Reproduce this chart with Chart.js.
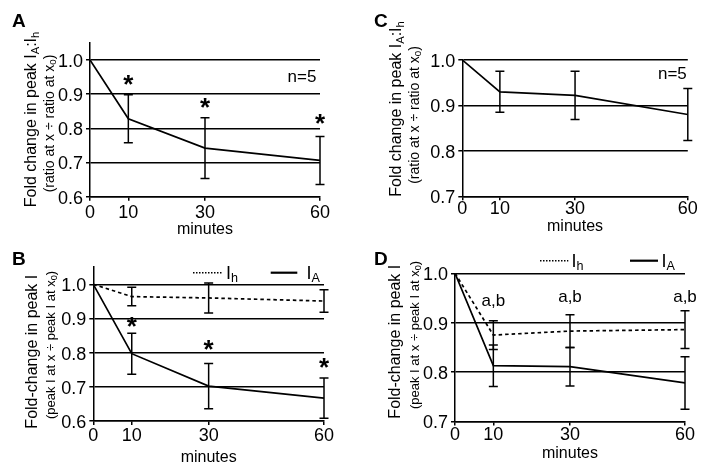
<!DOCTYPE html>
<html>
<head>
<meta charset="utf-8">
<script src="https://cdn.jsdelivr.net/npm/chart.js@4.4.1/dist/chart.umd.min.js"></script>
<style>
    html, body { margin: 0; padding: 0; background: #fff; }
    #wrap { position: relative; width: 707px; height: 471px; }
    #wrap canvas { position: absolute; left: 0; top: 0; }
</style>
</head>
<body>
<div id="wrap">
    <canvas id="panelA" width="707" height="471"></canvas>
    <canvas id="panelB" width="707" height="471"></canvas>
    <canvas id="panelC" width="707" height="471"></canvas>
    <canvas id="panelD" width="707" height="471"></canvas>
</div>
<script>
// Datos
const minutes = [0, 10, 30, 60];
const yTicksAB = [0.6, 0.7, 0.8, 0.9, 1.0];
const yTicksCD = [0.7, 0.8, 0.9, 1.0];

// A: IA:Ih (ratio)
const ratioA = [1.0, 0.828, 0.742, 0.706];
const ratioAErr = [0, 0.070, 0.089, 0.070];
const starsA = [null, 0.9415, 0.873, 0.827];

// C: IA:Ih (ratio)
const ratioC = [1.0, 0.930, 0.922, 0.880];
const ratioCErr = [0, 0.045, 0.053, 0.057];

// B: peak I
const ihB = [1.0, 0.964, 0.960, 0.951];
const ihBErr = [0, 0.027, 0.044, 0.033];
const iaB = [1.0, 0.797, 0.702, 0.667];
const iaBErr = [0, 0.060, 0.066, 0.059];
const starsB = [null, 0.8906, 0.8224, 0.7706];

// D: peak I
const ihD = [1.0, 0.875, 0.883, 0.886];
const ihDErr = [0, 0.029, 0.033, 0.038];
const iaD = [1.0, 0.813, 0.811, 0.778];
const iaDErr = [0, 0.042, 0.039, 0.053];
const labelsD = [null, 0.9425, 0.951, 0.951];

const FONT = '"Liberation Sans", Arial, Helvetica, sans-serif';
const TICK_SIZE = 18;
Chart.defaults.font.family = FONT;
Chart.defaults.font.size = 16;
Chart.defaults.color = '#000';

// Texto con subindices: parts = [{t, sub}]
const drawRich = (ctx, parts, x, y, size, opts = {}) => {
    ctx.save();
    ctx.translate(x, y);
    if (opts.rotate) ctx.rotate(-Math.PI / 2);
    ctx.textBaseline = 'middle';
    ctx.textAlign = 'left';
    ctx.fillStyle = '#000';
    const fontFor = (p) => `${p.sub ? size * 0.7 : size}px ${FONT}`;
    const widths = parts.map(p => { ctx.font = fontFor(p); return ctx.measureText(p.t).width; });
    const total = widths.reduce((a, b) => a + b, 0);
    let cx = opts.center ? -total / 2 : 0;
    parts.forEach((p, i) => {
        ctx.font = fontFor(p);
        ctx.fillText(p.t, cx, p.sub ? size * 0.25 : 0);
        cx += widths[i];
    });
    ctx.restore();
};

// Barras de error con tapas
const errorBars = {
    id: 'errorBars',
    afterDatasetsDraw(chart) {
        const { ctx, scales: { x, y } } = chart;
        ctx.save();
        ctx.strokeStyle = '#000';
        ctx.lineWidth = 1.5;
        chart.data.datasets.forEach(ds => {
            if (!ds.err) return;
            ds.data.forEach((pt, i) => {
                const e = ds.err[i];
                if (!e) return;
                const px = x.getPixelForValue(pt.x);
                const top = y.getPixelForValue(pt.y + e);
                const bot = y.getPixelForValue(pt.y - e);
                ctx.beginPath();
                ctx.moveTo(px, top); ctx.lineTo(px, bot);
                ctx.moveTo(px - 4.5, top); ctx.lineTo(px + 4.5, top);
                ctx.moveTo(px - 4.5, bot); ctx.lineTo(px + 4.5, bot);
                ctx.stroke();
            });
        });
        ctx.restore();
    }
};

// Letra del panel, titulo del eje Y, marcas y leyenda
const panelText = {
    id: 'panelText',
    afterDraw(chart, args, o) {
        const { ctx, scales: { x, y } } = chart;
        ctx.save();
        ctx.fillStyle = '#000';
        ctx.font = `bold 19px ${FONT}`;
        ctx.textBaseline = 'alphabetic';
        ctx.fillText(o.letter, o.letterPos[0], o.letterPos[1]);

        drawRich(ctx, o.title1, o.title1Pos[0], o.title1Pos[1], 16, { rotate: true, center: true });
        drawRich(ctx, o.title2, o.title2Pos[0], o.title2Pos[1], o.title2Size, { rotate: true, center: true });

        if (o.stars) {
            ctx.font = `bold 26px ${FONT}`;
            ctx.textAlign = 'center';
            const m = ctx.measureText('*');
            const shift = (m.actualBoundingBoxAscent - m.actualBoundingBoxDescent) / 2;
            o.stars.forEach((v, i) => {
                if (v == null) return;
                ctx.fillText('*', x.getPixelForValue(minutes[i]), y.getPixelForValue(v) + shift);
            });
        }
        if (o.marks) {
            ctx.font = `17px ${FONT}`;
            ctx.textAlign = 'center';
            ctx.textBaseline = 'middle';
            o.marks.forEach((v, i) => {
                if (v == null) return;
                ctx.fillText('a,b', x.getPixelForValue(minutes[i]), y.getPixelForValue(v));
            });
        }
        if (o.nText) {
            ctx.font = `17px ${FONT}`;
            ctx.textAlign = 'center';
            ctx.textBaseline = 'middle';
            ctx.fillText('n=5', x.getPixelForValue(o.nText[0]), y.getPixelForValue(o.nText[1]));
        }
        if (o.legend) {
            o.legend.forEach(item => {
                ctx.save();
                ctx.strokeStyle = '#000';
                ctx.lineWidth = item.width;
                ctx.setLineDash(item.dash);
                ctx.beginPath();
                ctx.moveTo(item.x1, item.y);
                ctx.lineTo(item.x2, item.y);
                ctx.stroke();
                ctx.restore();
                drawRich(ctx, item.label, item.tx, item.y + 1, 18);
            });
        }
        ctx.restore();
    }
};

const makePanel = (id, cfg) => {
    const yW = 40;
    const xH = cfg.titleOffset + 9.6;
    return new Chart(document.getElementById(id), {
        type: 'line',
        data: {
            datasets: cfg.series.map(s => ({
                data: minutes.map((m, i) => ({ x: m, y: s.values[i] })),
                err: s.err,
                borderColor: '#000',
                borderWidth: 1.7,
                borderDash: s.dash || [],
                pointRadius: 0,
                tension: 0,
                fill: false
            }))
        },
        options: {
            responsive: false,
            animation: false,
            devicePixelRatio: 1,
            layout: {
                padding: {
                    left: cfg.area.left - yW,
                    right: 707 - cfg.area.right,
                    top: cfg.area.top,
                    bottom: 471 - cfg.area.bottom - xH
                }
            },
            plugins: {
                legend: { display: false },
                tooltip: { enabled: false },
                panelText: cfg.text
            },
            scales: {
                x: {
                    type: 'linear',
                    min: 0,
                    max: 60,
                    afterBuildTicks: s => { s.ticks = minutes.map(v => ({ value: v })); },
                    afterFit: s => { s.height = xH; },
                    grid: { drawOnChartArea: false, color: '#000', lineWidth: 1.5, tickLength: 4 },
                    border: { color: '#000', width: 1.5 },
                    ticks: { color: '#000', padding: cfg.xPad, maxRotation: 0, autoSkip: false, font: { size: TICK_SIZE } },
                    title: { display: true, text: 'minutes', color: '#000', font: { size: 16 }, padding: 0 }
                },
                y: {
                    min: cfg.yMin,
                    max: cfg.yMax,
                    afterBuildTicks: s => { s.ticks = cfg.yTicks.map(v => ({ value: v })); },
                    afterFit: s => { s.width = yW; },
                    grid: { color: '#000', lineWidth: 1.5, tickLength: 4 },
                    border: { color: '#000', width: 1.5 },
                    ticks: { color: '#000', padding: 3, labelOffset: 2, autoSkip: false, font: { size: TICK_SIZE }, callback: v => v.toFixed(1) }
                }
            }
        },
        plugins: [errorBars, panelText]
    });
};

const titleRatio = [{ t: 'Fold change in peak I' }, { t: 'A', sub: true }, { t: ':I' }, { t: 'h', sub: true }];
const subRatio = [{ t: '(ratio at x \u00f7 ratio at x' }, { t: '0', sub: true }, { t: ')' }];
const titlePeak = [{ t: 'Fold-change in peak I' }];
const subPeak = [{ t: '(peak I at x \u00f7 peak I at x' }, { t: '0', sub: true }, { t: ')' }];
const labIh = [{ t: 'I' }, { t: 'h', sub: true }];
const labIa = [{ t: 'I' }, { t: 'A', sub: true }];

makePanel('panelA', {
    area: { left: 90, right: 320, top: 42.9, bottom: 196.7 },
    yMin: 0.6, yMax: 1.05, yTicks: yTicksAB, xPad: 1.8, titleOffset: 32.8,
    series: [{ values: ratioA, err: ratioAErr }],
    text: {
        letter: 'A', letterPos: [12, 27],
        title1: titleRatio, title1Pos: [32, 119.5],
        title2: subRatio, title2Pos: [50, 123.5], title2Size: 14,
        stars: starsA, nText: [55.3, 0.949]
    }
});

makePanel('panelB', {
    area: { left: 93.3, right: 324, top: 267.2, bottom: 421 },
    yMin: 0.6, yMax: 1.05, yTicks: yTicksAB, xPad: 0.2, titleOffset: 37,
    series: [
        { values: ihB, err: ihBErr, dash: [3.5, 3] },
        { values: iaB, err: iaBErr }
    ],
    text: {
        letter: 'B', letterPos: [12, 265],
        title1: titlePeak, title1Pos: [32.3, 351.7],
        title2: subPeak, title2Pos: [51, 345], title2Size: 13,
        stars: starsB,
        legend: [
            { x1: 193, x2: 222.7, y: 272.7, dash: [1.5, 1.5], width: 1.5, label: labIh, tx: 226 },
            { x1: 270.7, x2: 297.3, y: 272.7, dash: [], width: 2.2, label: labIa, tx: 306.5 }
        ]
    }
});

makePanel('panelC', {
    area: { left: 462.3, right: 687.8, top: 60, bottom: 196.3 },
    yMin: 0.7, yMax: 1.0, yTicks: yTicksCD, xPad: -2.3, titleOffset: 30.4,
    series: [{ values: ratioC, err: ratioCErr }],
    text: {
        letter: 'C', letterPos: [374, 27],
        title1: titleRatio, title1Pos: [396.7, 109],
        title2: subRatio, title2Pos: [415, 115], title2Size: 14,
        nText: [55.9, 0.969]
    }
});

makePanel('panelD', {
    area: { left: 455, right: 685, top: 273.3, bottom: 421.5 },
    yMin: 0.7, yMax: 1.0, yTicks: yTicksCD, xPad: -0.8, titleOffset: 31.7,
    series: [
        { values: ihD, err: ihDErr, dash: [3.5, 3] },
        { values: iaD, err: iaDErr }
    ],
    text: {
        letter: 'D', letterPos: [374, 265],
        title1: titlePeak, title1Pos: [396, 341.7],
        title2: subPeak, title2Pos: [415, 335], title2Size: 13,
        marks: labelsD,
        legend: [
            { x1: 540, x2: 568.3, y: 260.7, dash: [1.5, 1.5], width: 1.5, label: labIh, tx: 571.5 },
            { x1: 630, x2: 658, y: 260.7, dash: [], width: 2.2, label: labIa, tx: 661.5 }
        ]
    }
});
</script>
</body>
</html>
